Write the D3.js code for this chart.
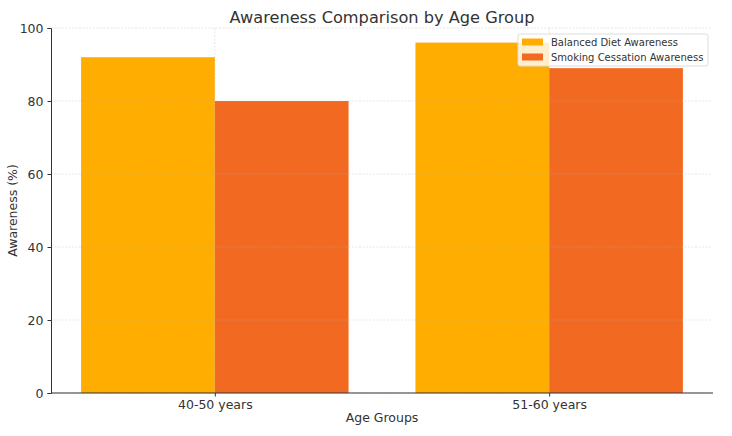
<!DOCTYPE html>
<html>
<head>
<meta charset="utf-8">
<script src="https://cdn.jsdelivr.net/npm/d3@7"></script>
<style>
  body { margin: 0; background: #fff; }
  text { font-family: "DejaVu Sans", sans-serif; fill: #333; }
</style>
</head>
<body>
<div id="chart"></div>
<script>
(function () {
  let ageGroups = ['40-50 years', '51-60 years'];
  let seriesNames = ['Balanced Diet Awareness', 'Smoking Cessation Awareness'];
  let balancedDiet = [92, 96];
  let smokingCessation = [80, 89];
  let yTicks = [0, 20, 40, 60, 80, 100];
  let colors = ['#ffad00', '#f26a21'];

  let width = 732,
    height = 436;
  let margin = { left: 51, right: 19, top: 28, bottom: 43 };

  let svg = d3.select('#chart').append('svg')
    .attr('width', width)
    .attr('height', height);

  let xScale = d3.scaleLinear()
    .domain([-0.49, 1.49])
    .range([margin.left, width - margin.right]);

  let yScale = d3.scaleLinear()
    .domain([0, 100])
    .range([height - margin.bottom, margin.top]);

  let barW = 0.4;
  let series = [balancedDiet, smokingCessation];

  // bars
  series.forEach((vals, s) => {
    svg.append('g').selectAll('rect')
      .data(vals).enter()
      .append('rect')
      .attr('x', (d, i) => xScale(i + (s === 0 ? -barW : 0)))
      .attr('width', xScale(barW) - xScale(0))
      .attr('y', (d) => yScale(d))
      .attr('height', (d) => yScale(0) - yScale(d))
      .attr('fill', colors[s]);
  });

  // grid over the bars, faint
  let grid = svg.append('g')
    .attr('stroke', '#b0b0b0')
    .attr('stroke-opacity', 0.4)
    .attr('stroke-width', 0.8)
    .attr('stroke-dasharray', '2,1.5');
  grid.selectAll('line.h')
    .data(yTicks).enter()
    .append('line')
    .attr('x1', margin.left).attr('x2', width - margin.right)
    .attr('y1', (d) => yScale(d)).attr('y2', (d) => yScale(d));
  grid.selectAll('line.v')
    .data(ageGroups).enter()
    .append('line')
    .attr('x1', (d, i) => xScale(i)).attr('x2', (d, i) => xScale(i))
    .attr('y1', margin.top).attr('y2', height - margin.bottom);

  // axes
  let xAxis = d3.axisBottom(xScale)
    .tickValues([0, 1])
    .tickFormat((d) => ageGroups[d])
    .tickSize(3.5).tickPadding(4);
  let gx = svg.append('g')
    .attr('transform', 'translate(0,' + (height - margin.bottom) + ')')
    .call(xAxis);
  gx.select('.domain').attr('d', 'M' + margin.left + ',0H' + (width - margin.right));

  let yAxis = d3.axisLeft(yScale)
    .tickValues(yTicks)
    .tickSize(3.5).tickPadding(4);
  let gy = svg.append('g')
    .attr('transform', 'translate(' + margin.left + ',0)')
    .call(yAxis);

  [gx, gy].forEach((g) => {
    g.selectAll('text').style('font-size', '12.5px').attr('fill', '#333')
      .style('font-family', '"DejaVu Sans", sans-serif');
    g.selectAll('line').attr('stroke', '#333');
    g.select('.domain').attr('stroke', '#333');
  });

  // titles
  svg.append('text')
    .attr('x', (margin.left + width - margin.right) / 2)
    .attr('y', 23)
    .attr('text-anchor', 'middle')
    .style('font-size', '16.2px')
    .text('Awareness Comparison by Age Group');

  svg.append('text')
    .attr('x', (margin.left + width - margin.right) / 2)
    .attr('y', 422)
    .attr('text-anchor', 'middle')
    .style('font-size', '12.5px')
    .text('Age Groups');

  svg.append('text')
    .attr('transform', 'translate(17,' + ((margin.top + height - margin.bottom) / 2) + ') rotate(-90)')
    .attr('text-anchor', 'middle')
    .style('font-size', '12.5px')
    .text('Awareness (%)');

  // legend
  let legend = svg.append('g').attr('transform', 'translate(518,34)');
  legend.append('rect')
    .attr('width', 190).attr('height', 32)
    .attr('rx', 2)
    .attr('fill', 'white').attr('fill-opacity', 0.8)
    .attr('stroke', '#ddd');
  seriesNames.forEach((name, i) => {
    legend.append('rect')
      .attr('x', 4).attr('y', 4.5 + i * 15)
      .attr('width', 21).attr('height', 7)
      .attr('fill', colors[i]);
    legend.append('text')
      .attr('x', 33).attr('y', 12 + i * 15)
      .style('font-size', '10px')
      .text(name);
  });
})();
</script>
</body>
</html>
